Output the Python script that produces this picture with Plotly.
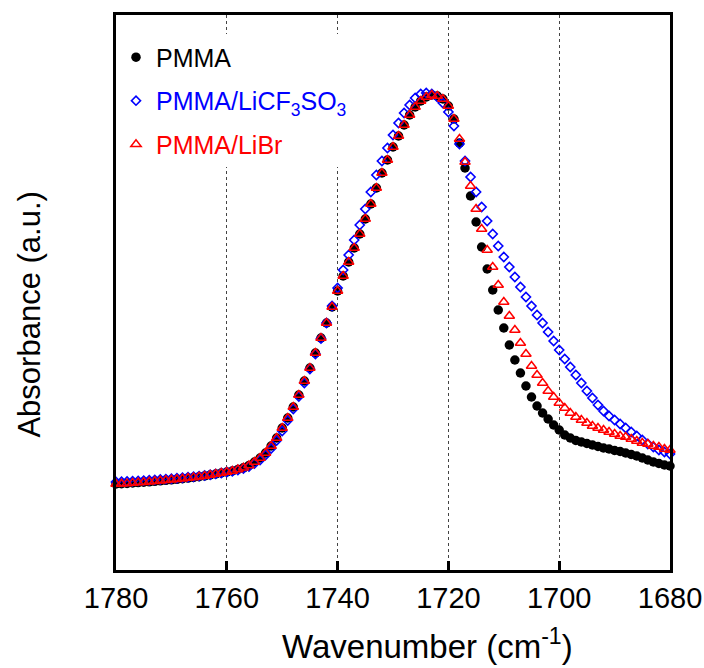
import plotly.graph_objects as go

# Wavenumber grid (cm^-1), 1780 -> 1680
wavenumber = list(range(1780, 1679, -1))

# Absorbance (arbitrary units)
pmma = [
    0, 0.3, 0.6, 1, 1.4, 1.8, 2.2, 2.7, 3.2, 3.7,
    4.2, 4.7, 5.3, 5.9, 6.6, 7.3, 8, 9, 10, 11,
    12, 13, 14.5, 16.2, 18.5, 22, 26, 31, 38, 46,
    56, 66, 77, 89, 103, 116, 131, 146, 161, 177,
    193, 208, 222, 236, 250, 265, 280, 296, 311, 324,
    337, 348, 359, 369, 377, 383, 387, 389, 388, 385,
    378, 365, 341, 316, 288, 262, 237, 215, 194, 174,
    156, 139, 124, 111, 98, 87, 78, 71, 65, 59,
    54, 49, 46, 43.5, 42, 40.5, 39, 37.5, 36, 35,
    33.5, 32.5, 31, 29.5, 28, 26, 24, 22, 20.5, 19,
    18,
]

pmma_licf3so3 = [
    2, 2.2, 2.5, 2.8, 3.1, 3.4, 3.7, 4.1, 4.5, 4.9,
    5.3, 5.7, 6.2, 6.7, 7.3, 7.9, 8.5, 9.3, 10.1, 11,
    12, 12.8, 14, 15.5, 17.5, 20.5, 24, 29, 35.5, 43.5,
    53, 63.5, 75, 87.5, 101, 115, 130, 145.5, 161, 178,
    196, 214, 229, 244, 259, 275, 292, 309, 323, 336,
    349, 361, 371, 379, 386, 390, 391, 390, 387, 381,
    372, 358, 340, 323, 307, 292, 277, 263, 250, 238,
    227, 217, 207, 197, 187, 178, 169, 161, 152, 143,
    134, 125, 117, 109, 101, 93, 86, 79, 73, 68,
    64, 60, 56, 52, 48, 44, 40, 37, 34, 32,
    30,
]

pmma_libr = [
    0, 0.3, 0.6, 1, 1.4, 1.8, 2.2, 2.7, 3.2, 3.7,
    4.2, 4.7, 5.3, 5.9, 6.6, 7.3, 8, 9, 10, 11,
    12, 13, 14.5, 16.2, 18.5, 22, 26, 31, 38, 46,
    56, 66, 77, 89, 103, 116, 131, 146, 161, 177,
    193, 208, 222, 236, 250, 265, 280, 296, 311, 324,
    337, 348, 359, 369, 377, 383, 387, 389, 388, 385,
    378, 365, 345, 322, 298, 275, 255, 234, 217, 199,
    182, 168, 154, 141, 130, 118, 109, 101, 93, 87,
    81, 76, 71, 67, 64, 61, 58, 56, 54, 52,
    50, 48, 47, 45, 43, 41, 40, 38, 37, 35,
    34,
]

tick_vals = [1780, 1760, 1740, 1720, 1700, 1680]
tick_text = ["1780", "1760", "1740", "1720", "1700", "1680"]

FONT = "Arial, Liberation Sans, sans-serif"

fig = go.Figure()
fig.add_trace(go.Scatter(
    x=wavenumber, y=pmma, mode="markers", name="PMMA",
    legendgroup="a",
    marker=dict(symbol="circle", size=9.5, color="black"),
    cliponaxis=False,
))
fig.add_trace(go.Scatter(
    x=wavenumber, y=pmma_licf3so3, mode="markers",
    name='<span style="color:#0000FF">PMMA/LiCF<sub>3</sub>SO<sub>3</sub></span>',
    legendgroup="b",
    marker=dict(symbol="diamond-open", size=7, color="#0000FF",
                line=dict(width=1.6, color="#0000FF")),
    cliponaxis=False,
))
fig.add_trace(go.Scatter(
    x=wavenumber, y=pmma_libr, mode="markers",
    name='<span style="color:#FF0000">PMMA/LiBr</span>',
    legendgroup="c",
    marker=dict(symbol="triangle-up-open", size=9, color="#FF0000",
                line=dict(width=1.5, color="#FF0000")),
    cliponaxis=False,
))

fig.update_layout(
    template="none",
    width=704, height=668,
    margin=dict(l=116, r=34, t=15, b=98),
    paper_bgcolor="white", plot_bgcolor="white",
    font=dict(family=FONT, size=28, color="black"),
    showlegend=True,
    legend=dict(
        x=0.0, y=0.965, xanchor="left", yanchor="top",
        bgcolor="white", borderwidth=0,
        font=dict(family=FONT, size=25, color="black"),
        traceorder="grouped", tracegroupgap=8,
    ),
    xaxis=dict(
        range=[1780, 1680],
        tickmode="array", tickvals=tick_vals, ticktext=tick_text,
        ticks="inside", ticklen=9, tickwidth=2.5, tickcolor="black",
        showline=True, linewidth=3, linecolor="black", mirror=True,
        showgrid=True, gridcolor="#444444", gridwidth=1.2, griddash="dot",
        zeroline=False,
        tickfont=dict(family=FONT, size=29, color="black"),
        automargin=False,
    ),
    yaxis=dict(
        range=[-86, 469],
        showticklabels=False, ticks="",
        showline=True, linewidth=3, linecolor="black", mirror=True,
        showgrid=False, zeroline=False,
        automargin=False,
    ),
    annotations=[
        dict(text="Wavenumber (cm<sup>-1</sup>)", xref="paper", yref="paper",
             x=0.563, y=-0.133, xanchor="center", yanchor="middle",
             showarrow=False, font=dict(family=FONT, size=33, color="black")),
        dict(text="Absorbance (a.u.)", xref="paper", yref="paper",
             x=-0.156, y=0.4595, xanchor="center", yanchor="middle",
             textangle=-90,
             showarrow=False, font=dict(family=FONT, size=31, color="black")),
    ],
)

fig.write_html("out.html")
